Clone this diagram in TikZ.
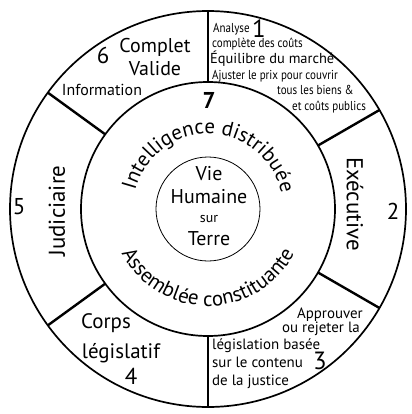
\documentclass[tikz,border=0pt]{standalone}
\usepackage{fontspec}
\setmainfont{PT Sans}
\newfontfamily\narrowfont[FakeStretch=0.85]{PT Sans}
\usetikzlibrary{decorations.text}
\tikzset{
  ring/.style={line width=1.7bp},
  divider/.style={line width=2.4bp},
  bigtext/.style={font=\fontsize{20}{24}\selectfont},
  sidetext/.style={font=\fontsize{23}{23}\selectfont},
  numtext/.style={font=\fontsize{23}{23}\selectfont},
  smalltext/.style={font=\narrowfont\fontsize{13}{13}\selectfont},
  midtext/.style={font=\fontsize{15}{15}\selectfont},
}
\begin{document}
\begin{tikzpicture}[x=1bp,y=1bp,inner sep=0pt]
    \useasboundingbox (-208,-205) rectangle (204,209);
    % rings
    \draw[ring] (0,0) circle (198);
    \draw[ring] (0,0) circle (127);
    \draw[line width=0.8bp] (0,0) circle (52);
    \foreach \a in {90,30,-30,-90,-144,144}
        \draw[divider] (\a:127) -- (\a:198);

    % centre
    \node[bigtext,anchor=base] (vie) at (1,29) {Vie};
    \node[bigtext,anchor=base] (humaine) at (1,6) {Humaine};
    \node[font=\fontsize{14}{14}\selectfont,anchor=base] (sur) at (1,-13) {sur};
    \node[bigtext,anchor=base] (terre) at (1,-36) {Terre};

    % middle ring
    \path[decorate,decoration={text along path,text align=center,
        text={|\fontsize{21}{21}\selectfont|Intelligence distribuée}}]
        (162:75) arc (162:16:75);
    \path[decorate,decoration={text along path,text align=center,
        text={|\fontsize{21}{21}\selectfont|Assemblée constituante}}]
        (198:97) arc (198:342:97);
    \node[font=\bfseries\fontsize{23}{23}\selectfont] (seven) at (1,109) {7};

    % sector 1
    \node[smalltext,anchor=base west] (analyse) at (5,177) {Analyse};
    \node[font=\fontsize{25}{25}\selectfont] (one) at (51,180) {1};
    \node[smalltext,anchor=base west] (couts) at (4,162) {complète des coûts};
    \node[font=\fontsize{14.5}{14.5}\selectfont,anchor=base west] (equilibre) at (2,146) {Équilibre du marché};
    \node[smalltext,anchor=base west] (ajuster) at (4,130) {Ajuster le prix pour couvrir};
    \node[smalltext,anchor=base west] (biens) at (69,115) {tous les biens \&};
    \node[smalltext,anchor=base west] (publics) at (84,99) {et coûts publics};

    % sector 2
    \node[sidetext,rotate=-90] (executive) at (147,5) {Exécutive};
    \node[numtext] (two) at (185,-2) {2};

    % sector 3
    \node[midtext,anchor=base east] (approuver) at (155,-109) {Approuver};
    \node[midtext,anchor=base east] (rejeter) at (152,-123) {ou rejeter la};
    \node[midtext,anchor=base west] (legislation) at (4,-140) {législation basée};
    \node[midtext,anchor=base west] (contenu) at (4,-158) {sur le contenu};
    \node[font=\fontsize{25}{25}\selectfont] (three) at (112,-152) {3};
    \node[midtext,anchor=base west] (justice) at (4,-176) {de la justice};

    % sector 4
    \node[font=\fontsize{21}{21}\selectfont,anchor=base] (corps) at (-102,-119) {Corps};
    \node[font=\fontsize{21}{21}\selectfont,anchor=base] (legislatif) at (-87,-149) {législatif};
    \node[numtext] (four) at (-77,-167) {4};

    % sector 5
    \node[sidetext,rotate=90] (judiciaire) at (-151,-2) {Judiciaire};
    \node[numtext] (five) at (-189,2) {5};

    % sector 6
    \node[numtext] (six) at (-105,154) {6};
    \node[bigtext,align=center] (complet) at (-53,152) {Complet\\Valide};
    \node[font=\fontsize{16}{16}\selectfont] (information) at (-106,119) {Information};
\end{tikzpicture}
\end{document}
